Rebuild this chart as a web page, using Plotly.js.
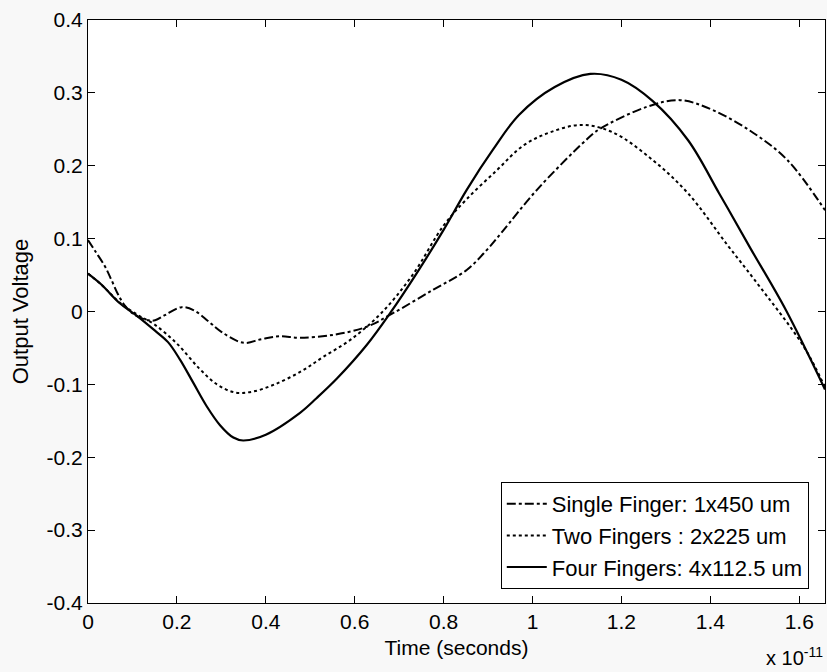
<!DOCTYPE html>
<html>
<head>
<meta charset="utf-8">
<script src="https://cdn.plot.ly/plotly-3.0.1.min.js"></script>
<style>
html,body{margin:0;padding:0;background:#f8f8f8;}
#chart{width:827px;height:672px;}
</style>
</head>
<body>
<div id="chart"></div>
<script>
// Time values are in units of 1e-11 seconds (axis multiplier "x 10^-11")
const singleX = [0, 0.016, 0.038, 0.053, 0.068, 0.083, 0.106, 0.136, 0.151, 0.173, 0.211, 0.24, 0.27, 0.30, 0.35, 0.39, 0.43, 0.477, 0.552, 0.627, 0.687, 0.777, 0.852, 0.898, 0.93, 1.01, 1.12, 1.15, 1.258, 1.332, 1.407, 1.497, 1.573, 1.658];
const singleY = [0.098, 0.083, 0.062, 0.043, 0.023, 0.008, -0.005, -0.012, -0.012, -0.005, 0.006, 0.001, -0.013, -0.028, -0.043, -0.038, -0.034, -0.036, -0.032, -0.021, -0.002, 0.030, 0.057, 0.085, 0.108, 0.167, 0.235, 0.250, 0.281, 0.290, 0.276, 0.245, 0.208, 0.139];

const twoX = [0, 0.03, 0.07, 0.11, 0.15, 0.2, 0.25, 0.29, 0.33, 0.37, 0.42, 0.48, 0.53, 0.59, 0.66, 0.73, 0.80, 0.85, 0.92, 0.98, 1.04, 1.11, 1.18, 1.27, 1.35, 1.44, 1.50, 1.61, 1.658];
const twoY = [0.052, 0.037, 0.013, -0.004, -0.018, -0.044, -0.078, -0.100, -0.111, -0.110, -0.100, -0.082, -0.062, -0.039, -0.002, 0.050, 0.118, 0.153, 0.194, 0.228, 0.246, 0.256, 0.246, 0.208, 0.162, 0.090, 0.043, -0.048, -0.104];

const fourX = [0, 0.03, 0.07, 0.11, 0.15, 0.18, 0.207, 0.237, 0.267, 0.297, 0.327, 0.349, 0.40, 0.477, 0.514, 0.56, 0.627, 0.68, 0.74, 0.80, 0.852, 0.911, 0.97, 1.05, 1.13, 1.20, 1.27, 1.35, 1.42, 1.49, 1.57, 1.658];
const fourY = [0.052, 0.037, 0.012, -0.006, -0.026, -0.042, -0.066, -0.098, -0.130, -0.156, -0.173, -0.177, -0.169, -0.139, -0.119, -0.092, -0.046, -0.002, 0.053, 0.112, 0.167, 0.222, 0.270, 0.308, 0.326, 0.318, 0.289, 0.235, 0.162, 0.087, 0.002, -0.107];

const seriesNames = ['Single Finger: 1x450 um', 'Two Fingers : 2x225 um', 'Four Fingers: 4x112.5 um'];

const xTickVals = [0, 0.2, 0.4, 0.6, 0.8, 1, 1.2, 1.4, 1.6];
const xTickText = ['0', '0.2', '0.4', '0.6', '0.8', '1', '1.2', '1.4', '1.6'];
const yTickVals = [-0.4, -0.3, -0.2, -0.1, 0, 0.1, 0.2, 0.3, 0.4];
const yTickText = ['-0.4', '-0.3', '-0.2', '-0.1', '0', '0.1', '0.2', '0.3', '0.4'];

const FONT = 'Liberation Sans, Arial, sans-serif';

const traces = [
  {x: singleX, y: singleY, name: seriesNames[0], mode: 'lines', line: {color: '#000', width: 2, dash: 'dashdot', shape: 'spline', smoothing: 1}},
  {x: twoX, y: twoY, name: seriesNames[1], mode: 'lines', line: {color: '#000', width: 2, dash: 'dot', shape: 'spline', smoothing: 1}},
  {x: fourX, y: fourY, name: seriesNames[2], mode: 'lines', line: {color: '#000', width: 2.2, dash: 'solid', shape: 'spline', smoothing: 1}}
];

const axisCommon = {
  showgrid: false, zeroline: false, showline: true, linecolor: '#000', linewidth: 1,
  mirror: 'ticks', ticks: 'inside', ticklen: 7, tickcolor: '#000', tickwidth: 1,
  tickfont: {family: FONT, size: 21, color: '#000'}, tickmode: 'array'
};

const layout = {
  width: 827, height: 672,
  margin: {l: 88, r: 2, t: 20, b: 69},
  paper_bgcolor: '#f8f8f8', plot_bgcolor: '#ffffff',
  font: {family: FONT, color: '#000'},
  showlegend: true,
  legend: {
    x: 0.978, y: 0.024, xanchor: 'right', yanchor: 'bottom',
    bgcolor: '#ffffff', bordercolor: '#000', borderwidth: 1,
    font: {family: FONT, size: 22, color: '#000'},
    itemwidth: 40, tracegroupgap: 0
  },
  xaxis: Object.assign({}, axisCommon, {
    range: [0, 1.658], tickvals: xTickVals, ticktext: xTickText,
    title: {text: 'Time (seconds)', font: {family: FONT, size: 21, color: '#000'}, standoff: 8}
  }),
  yaxis: Object.assign({}, axisCommon, {
    range: [-0.4, 0.4], tickvals: yTickVals, ticktext: yTickText,
    title: {text: 'Output Voltage', font: {family: FONT, size: 22, color: '#000'}, standoff: 11}
  }),
  annotations: [{
    xref: 'paper', yref: 'paper', x: 1.0, y: -0.116, xanchor: 'right', yanchor: 'bottom',
    text: 'x 10<sup>-11</sup>', showarrow: false,
    font: {family: FONT, size: 20, color: '#000'}
  }]
};

Plotly.newPlot('chart', traces, layout, {displayModeBar: false, staticPlot: true});
</script>
</body>
</html>
